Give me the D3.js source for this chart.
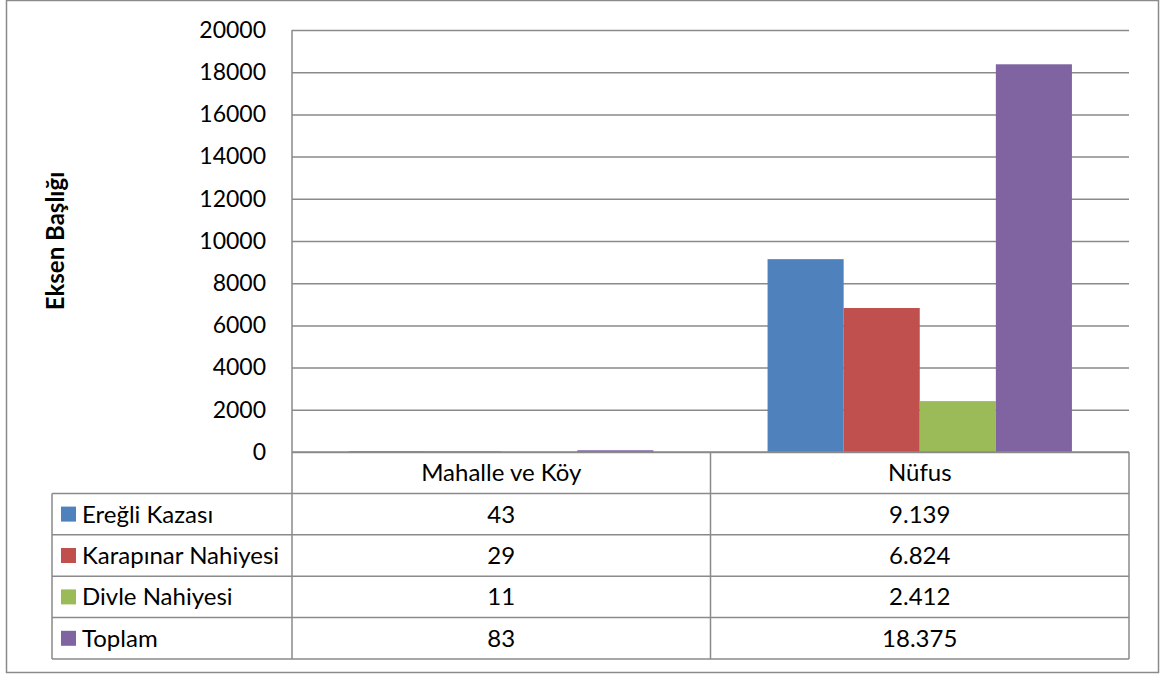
<!DOCTYPE html>
<html>
<head>
<meta charset="utf-8">
<script src="https://cdn.jsdelivr.net/npm/d3@7"></script>
<style>
  body { margin: 0; background: #fff; }
  text { font-family: Lato, "Open Sans", sans-serif; fill: #000; }
</style>
</head>
<body>
<div id="chart"></div>
<script>
// data
var categories = ["Mahalle ve Köy", "Nüfus"];
var seriesNames = ["Ereğli Kazası", "Karapınar Nahiyesi", "Divle Nahiyesi", "Toplam"];
var eregliValues = [43, 9139];
var karapinarValues = [29, 6824];
var divleValues = [11, 2412];
var toplamValues = [83, 18375];
var yTicks = [0, 2000, 4000, 6000, 8000, 10000, 12000, 14000, 16000, 18000, 20000];
var axisTitle = "Eksen Başlığı";

var seriesColors = ["#4f81bd", "#c0504d", "#9bbb59", "#8064a2"];
var seriesValues = [eregliValues, karapinarValues, divleValues, toplamValues];

var W = 1166, H = 677;
var plot = { left: 292, right: 1129, top: 30, bottom: 452 };
var table = { left: 52, rowH: 41.4 };
var lineColor = "#8a8a8a";
var tableFont = "24px";

var svg = d3.select("#chart").append("svg")
  .attr("width", W)
  .attr("height", H);

// outer chart border
svg.append("rect")
  .attr("x", 6.5).attr("y", 0.5)
  .attr("width", 1152).attr("height", 672)
  .attr("fill", "#fff")
  .attr("stroke", lineColor)
  .attr("stroke-width", 1.5);

var x0 = d3.scaleBand()
  .domain(categories)
  .range([plot.left, plot.right])
  .paddingInner(0).paddingOuter(0);

var x1 = d3.scaleBand()
  .domain(seriesNames)
  .range([0, x0.bandwidth()])
  .paddingInner(0).paddingOuter(0.75);

var y = d3.scaleLinear()
  .domain([0, 20000])
  .range([plot.bottom, plot.top]);

// y axis + gridlines
var yAxis = svg.append("g")
  .attr("transform", "translate(" + plot.left + ",0)")
  .call(d3.axisLeft(y)
    .tickValues(yTicks)
    .tickSize(-(plot.right - plot.left))
    .tickPadding(26)
    .tickFormat(d3.format("d")));

yAxis.select(".domain").remove();
yAxis.selectAll(".tick line")
  .style("stroke", lineColor)
  .style("stroke-width", 1.5);
yAxis.selectAll(".tick text")
  .style("font-size", "23px")
  .style("font-family", "Lato, 'Open Sans', sans-serif")
  .style("fill", "#000");

// vertical axis line
svg.append("line")
  .attr("x1", plot.left).attr("x2", plot.left)
  .attr("y1", plot.top).attr("y2", plot.bottom)
  .style("stroke", lineColor)
  .style("stroke-width", 1.5);

// bars
var rows = [];
seriesNames.forEach(function (s, i) {
  categories.forEach(function (c, j) {
    rows.push({ series: s, cat: c, value: seriesValues[i][j], color: seriesColors[i] });
  });
});

svg.append("g")
  .selectAll("rect")
  .data(rows)
  .enter()
  .append("rect")
  .attr("x", function (d) { return x0(d.cat) + x1(d.series); })
  .attr("y", function (d) { return y(d.value); })
  .attr("width", x1.bandwidth())
  .attr("height", function (d) { return y(0) - y(d.value); })
  .attr("fill", function (d) { return d.color; });

// y axis title
svg.append("text")
  .attr("transform", "translate(64,241) rotate(-90)")
  .attr("text-anchor", "middle")
  .style("font-size", "24px")
  .style("font-weight", "bold")
  .text(axisTitle);

// data table
var fmt = d3.formatLocale({ decimal: ",", thousands: ".", grouping: [3], currency: ["", "TL"] }).format(",d");
var tbl = svg.append("g");
var nRows = seriesNames.length + 1;
var tableBottom = plot.bottom + nRows * table.rowH;

// horizontal lines
for (var r = 0; r <= nRows; r++) {
  var yy = plot.bottom + r * table.rowH;
  tbl.append("line")
    .attr("x1", r === 0 ? plot.left : table.left).attr("x2", plot.right)
    .attr("y1", yy).attr("y2", yy)
    .style("stroke", lineColor).style("stroke-width", 1.5);
}
// vertical lines
tbl.append("line")
  .attr("x1", table.left).attr("x2", table.left)
  .attr("y1", plot.bottom + table.rowH).attr("y2", tableBottom)
  .style("stroke", lineColor).style("stroke-width", 1.5);
[plot.left, x0("Nüfus"), plot.right].forEach(function (xx) {
  tbl.append("line")
    .attr("x1", xx).attr("x2", xx)
    .attr("y1", plot.bottom).attr("y2", tableBottom)
    .style("stroke", lineColor).style("stroke-width", 1.5);
});

// header row
tbl.selectAll(".hdr")
  .data(categories)
  .enter()
  .append("text")
  .attr("class", "hdr")
  .attr("x", function (d) { return x0(d) + x0.bandwidth() / 2; })
  .attr("y", plot.bottom + table.rowH / 2)
  .attr("dy", "0.35em")
  .attr("text-anchor", "middle")
  .style("font-size", tableFont)
  .text(function (d) { return d; });

// series rows
seriesNames.forEach(function (s, i) {
  var cy = plot.bottom + (i + 1) * table.rowH + table.rowH / 2;
  tbl.append("rect")
    .attr("x", 61).attr("y", cy - 7.5)
    .attr("width", 15).attr("height", 15)
    .attr("fill", seriesColors[i]);
  tbl.append("text")
    .attr("x", 82).attr("y", cy)
    .attr("dy", "0.35em")
    .style("font-size", tableFont)
    .text(s);
  tbl.selectAll(".v" + i)
    .data(categories)
    .enter()
    .append("text")
    .attr("x", function (d) { return x0(d) + x0.bandwidth() / 2; })
    .attr("y", cy)
    .attr("dy", "0.35em")
    .attr("text-anchor", "middle")
    .style("font-size", tableFont)
    .text(function (d, j) { return fmt(seriesValues[i][j]); });
});
</script>
</body>
</html>
